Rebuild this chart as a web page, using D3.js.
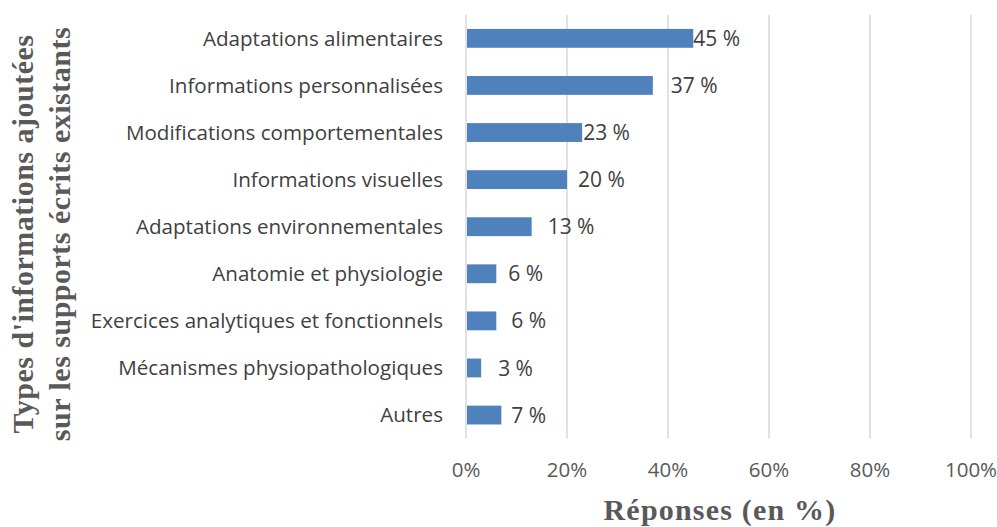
<!DOCTYPE html>
<html><head><meta charset="utf-8">
<script src="https://cdn.jsdelivr.net/npm/d3@7"></script>
<style>body{margin:0;background:#fff}</style>
</head><body>
<svg id="c" width="997" height="527"></svg>
<script>
const categories = ["Adaptations alimentaires","Informations personnalisées","Modifications comportementales","Informations visuelles","Adaptations environnementales","Anatomie et physiologie","Exercices analytiques et fonctionnels","Mécanismes physiopathologiques","Autres"];
const values = [45,37,23,20,13,6,6,3,7];
const ticks = [0,20,40,60,80,100];
const tickLabels = ["0%","20%","40%","60%","80%","100%"];
const xTitle = "Réponses (en %)";
const yTitleLines = ["Types d'informations ajoutées","sur les supports écrits existants"];

const svg = d3.select("#c");
const L = 466, R = 971, T = 14.8, B = 438.6;
const x = d3.scaleLinear().domain([0,100]).range([L,R]);
const y = d3.scaleBand().domain(categories).range([T,B]).paddingInner(0.6).paddingOuter(0.3);
const font = "'Open Sans', sans-serif";
const serif = "'Liberation Serif', 'Times New Roman', serif";

// gridlines
svg.append("g").selectAll("line").data(ticks).join("line")
  .attr("x1",d=>x(d)).attr("x2",d=>x(d)).attr("y1",T).attr("y2",B)
  .attr("stroke","#d9d9d9").attr("stroke-width",1.5);

// bars
svg.append("g").selectAll("rect").data(values).join("rect")
  .attr("x",x(0)+1).attr("y",(d,i)=>y(categories[i]))
  .attr("width",d=>x(d)-x(0)-1).attr("height",y.bandwidth())
  .attr("fill","#4F81BD");

// data labels (nudges mimic original placement)
const nudge = [0,18,1,11,16,12,15,17,10];
svg.append("g").selectAll("text").data(values).join("text")
  .attr("x",(d,i)=>x(d)+nudge[i]).attr("y",(d,i)=>y(categories[i])+y.bandwidth()/2)
  .attr("dy","0.36em").attr("font-family",font).attr("font-size",21).attr("fill","#404040")
  .text(d=>d+" %");

// category labels
svg.append("g").selectAll("text").data(categories).join("text")
  .attr("x",443).attr("y",d=>y(d)+y.bandwidth()/2).attr("dy","0.36em")
  .attr("text-anchor","end").attr("font-family",font).attr("font-size",20.6).attr("fill","#404040")
  .text(d=>d);

// tick labels
svg.append("g").selectAll("text").data(ticks).join("text")
  .attr("x",d=>x(d)).attr("y",477).attr("text-anchor","middle")
  .attr("font-family",font).attr("font-size",20.5).attr("fill","#595959")
  .text((d,i)=>tickLabels[i]);

// x title
svg.append("text").attr("x",720).attr("y",520).attr("text-anchor","middle")
  .attr("font-family",serif).attr("font-weight","bold").attr("letter-spacing",1.2)
  .attr("font-size",30).attr("fill","#595959").text(xTitle);

// y title
const yt = svg.append("text").attr("transform","translate(0,234) rotate(-90)")
  .attr("text-anchor","middle").attr("font-family",serif).attr("letter-spacing",0.5)
  .attr("font-weight","bold").attr("font-size",30).attr("fill","#595959");
yTitleLines.forEach((t,i)=>yt.append("tspan").attr("x",0).attr("y",33+i*37).text(t));
</script>
</body></html>
